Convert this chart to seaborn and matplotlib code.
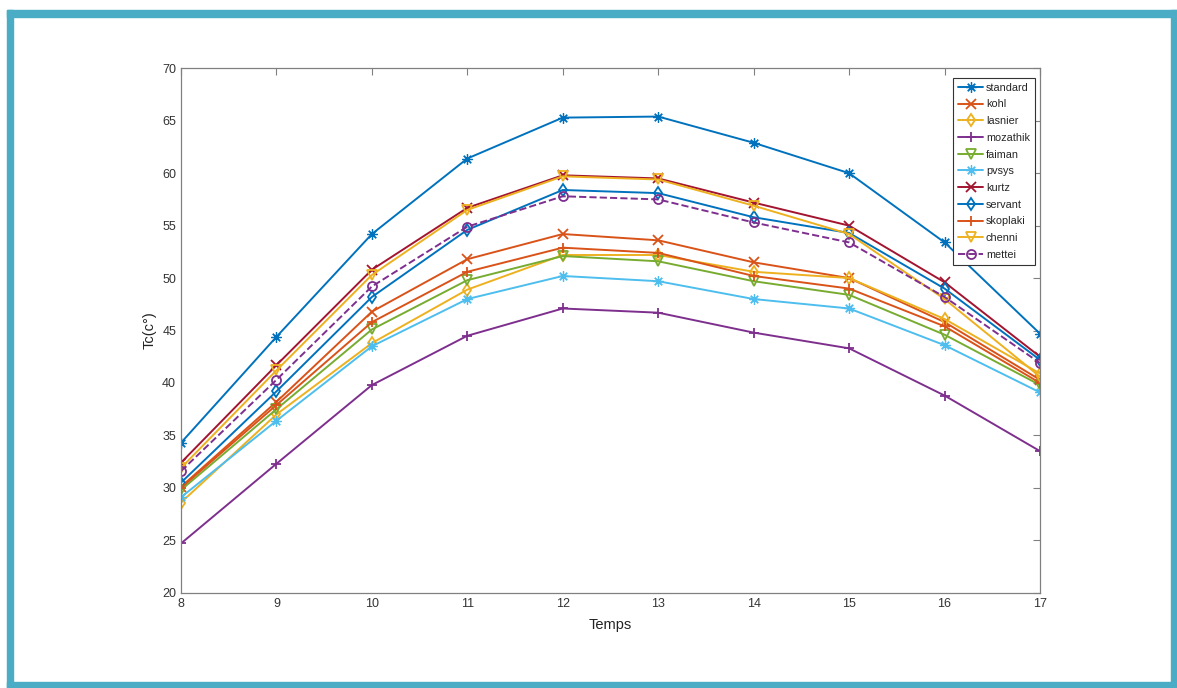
import numpy as np
import pandas as pd
import matplotlib
matplotlib.use("Agg")
import matplotlib.pyplot as plt
import seaborn as sns
from matplotlib.patches import Rectangle

sns.set_style("white")
plt.rcParams['font.family'] = ['Liberation Sans', 'DejaVu Sans']

hours = [8, 9, 10, 11, 12, 13, 14, 15, 16, 17]

standard = [34.3, 44.4, 54.2, 61.4, 65.3, 65.4, 62.9, 60.0, 53.4, 44.7]
kohl = [30.1, 38.2, 46.8, 51.8, 54.2, 53.6, 51.5, 50.0, 45.8, 40.3]
lasnier = [28.6, 37.0, 43.8, 48.9, 52.2, 52.2, 50.6, 50.0, 46.1, 40.9]
mozathik = [24.7, 32.3, 39.8, 44.5, 47.1, 46.7, 44.8, 43.3, 38.8, 33.5]
faiman = [29.8, 37.5, 45.1, 49.8, 52.1, 51.6, 49.7, 48.4, 44.6, 39.8]
pvsys = [29.1, 36.4, 43.5, 48.0, 50.2, 49.7, 48.0, 47.1, 43.6, 39.1]
kurtz = [32.4, 41.7, 50.8, 56.7, 59.8, 59.5, 57.2, 55.0, 49.6, 42.5]
servant = [30.5, 39.2, 48.2, 54.6, 58.4, 58.1, 55.8, 54.3, 49.0, 42.2]
skoplaki = [30.0, 37.9, 45.8, 50.6, 52.9, 52.4, 50.2, 49.0, 45.4, 40.0]
chenni = [31.9, 41.2, 50.3, 56.5, 59.7, 59.4, 56.9, 54.2, 48.0, 40.6]
mettei = [31.6, 40.3, 49.2, 54.9, 57.8, 57.5, 55.3, 53.4, 48.2, 41.9]

models = ['standard', 'kohl', 'lasnier', 'mozathik', 'faiman', 'pvsys',
          'kurtz', 'servant', 'skoplaki', 'chenni', 'mettei']
series = [standard, kohl, lasnier, mozathik, faiman, pvsys,
          kurtz, servant, skoplaki, chenni, mettei]

# matlab default color order, markers per model
asterisk = (8, 2, 0)
colors = ['#0072BD', '#D95319', '#EDB120', '#7E2F8E', '#77AC30', '#4DBEEE',
          '#A2142F', '#0072BD', '#D95319', '#EDB120', '#7E2F8E']
markers = [asterisk, 'x', 'd', '+', 'v', asterisk, 'x', 'd', '+', 'v', 'o']
styles = ['-'] * 10 + ['--']

fig = plt.figure(figsize=(11.77, 6.88), dpi=100)
ax = fig.add_axes([0.1538, 0.1385, 0.7298, 0.7622])

for name, vals, c, m, ls in zip(models, series, colors, markers, styles):
    filled = m in [asterisk, 'x', '+']
    mew = 0.9 if m == asterisk else 1.3
    ms = 7.5 if m == asterisk else 6.5
    sns.lineplot(x=hours, y=vals, ax=ax, color=c, marker=m, linestyle=ls,
                 linewidth=1.4, markersize=ms, label=name,
                 markerfacecolor=c if filled else 'none',
                 markeredgecolor=c, markeredgewidth=mew)

ax.set_xlim(8, 17)
ax.set_ylim(20, 70)
ax.set_xticks(hours)
ax.set_yticks(range(20, 71, 5))
ax.tick_params(direction='in', length=5, width=0.8, colors='#808080',
               labelcolor='#333333', labelsize=9, top=True, right=True)
for s in ax.spines.values():
    s.set_color('#808080')
    s.set_linewidth(0.9)

ax.set_xlabel('Temps', fontsize=10.5, color='#222222', labelpad=6)
ax.set_ylabel('Tc(c°)', fontsize=10.5, color='#222222', labelpad=4)

leg = ax.legend(loc='upper right', bbox_to_anchor=(0.9965, 0.986), fontsize=7.8,
                handlelength=2.3, handletextpad=0.25, labelspacing=0.62,
                borderpad=0.45, borderaxespad=0.2, frameon=True, fancybox=False,
                edgecolor='#333333', framealpha=1)
leg.get_frame().set_linewidth(0.8)

# blue frame around the picture
W, H = 1177, 688
blue = '#4BACC6'
for (x0, y0, w, h) in [(7, 10, 6, 678), (7, 10, 1170, 7),
                       (1171, 10, 6, 678), (7, 682, 1170, 6)]:
    fig.patches.append(Rectangle((x0 / W, 1 - (y0 + h) / H), w / W, h / H,
                                 transform=fig.transFigure, color=blue,
                                 zorder=10))

fig.savefig('out.png', dpi=100)
